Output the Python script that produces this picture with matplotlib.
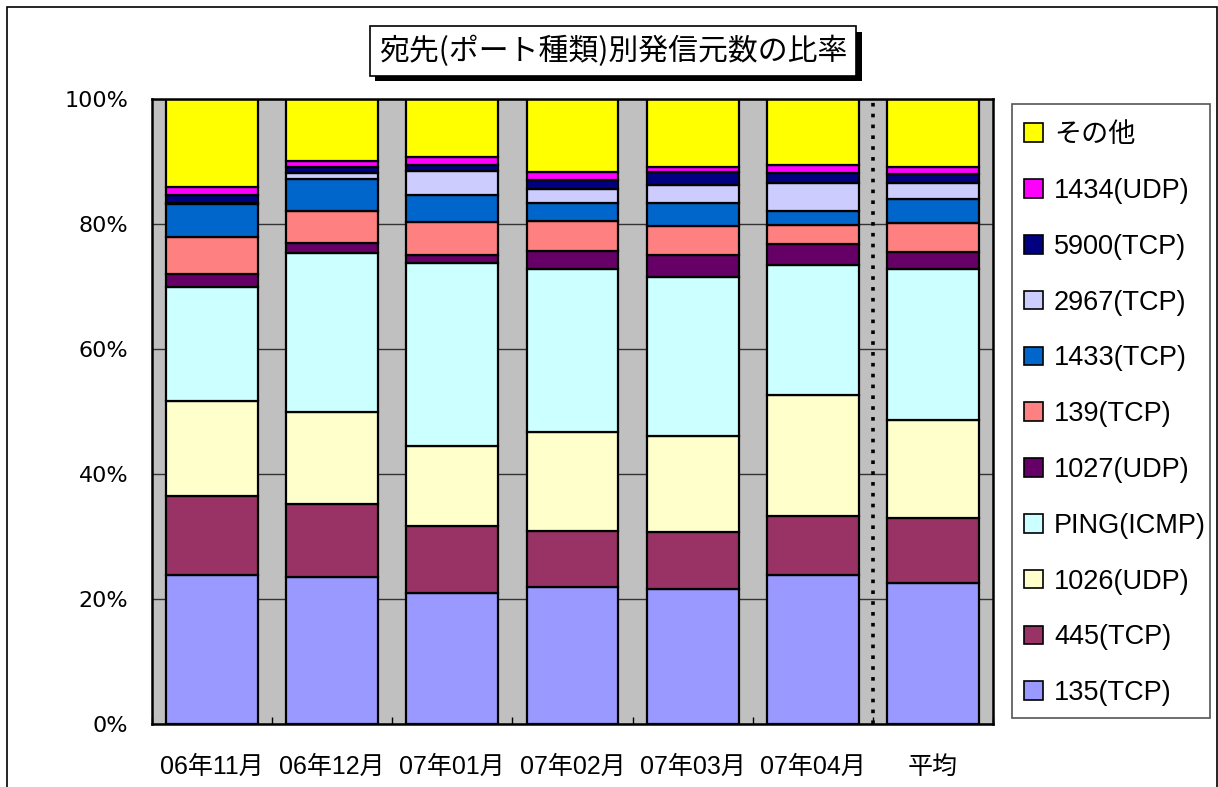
import numpy as np
import matplotlib
matplotlib.use("Agg")
import matplotlib.pyplot as plt
import matplotlib.patheffects as pe
from matplotlib.patches import Rectangle, Patch

plt.rcParams['font.family'] = ['Liberation Sans', 'Noto Sans CJK JP', 'DejaVu Sans']

# data (percent share per month, bottom -> top)
months = ["06年11月", "06年12月", "07年01月", "07年02月", "07年03月", "07年04月", "平均"]
series_names = ["135(TCP)", "445(TCP)", "1026(UDP)", "PING(ICMP)", "1027(UDP)", "139(TCP)",
                "1433(TCP)", "2967(TCP)", "5900(TCP)", "1434(UDP)", "その他"]
p135 = [23.8, 23.5, 21.0, 21.9, 21.6, 23.8, 22.6]
p445 = [12.7, 11.7, 10.7, 9.0, 9.1, 9.5, 10.4]
p1026 = [15.2, 14.7, 12.8, 15.8, 15.4, 19.3, 15.6]
ping = [18.2, 25.5, 29.3, 26.1, 25.4, 20.8, 24.2]
p1027 = [2.1, 1.6, 1.2, 2.9, 3.5, 3.4, 2.7]
p139 = [5.9, 5.1, 5.3, 4.8, 4.7, 3.0, 4.7]
p1433 = [5.3, 5.1, 4.3, 2.9, 3.7, 2.3, 3.8]
p2967 = [0.2, 1.0, 3.9, 2.2, 2.8, 4.5, 2.6]
p5900 = [1.2, 0.9, 0.9, 1.4, 2.1, 1.6, 1.4]
p1434 = [1.3, 1.0, 1.3, 1.3, 0.8, 1.2, 1.1]
other = [14.1, 9.9, 9.3, 11.7, 10.9, 10.6, 10.9]
yticks = [0, 20, 40, 60, 80, 100]

colors = ["#9999FF", "#993366", "#FFFFCC", "#CCFFFF", "#660066", "#FF8080",
          "#0066CC", "#CCCCFF", "#000080", "#FF00FF", "#FFFF00"]

W, H = 1218, 787
fig = plt.figure(figsize=(W / 100, H / 100), dpi=100)
ax = fig.add_axes([152 / W, 1 - 724 / H, (993 - 152) / W, (724 - 99) / H])
ax.set_facecolor("#C0C0C0")

x = np.arange(len(months))
data = [p135, p445, p1026, ping, p1027, p139, p1433, p2967, p5900, p1434, other]
bottom = np.zeros(len(months))
for vals, col in zip(data, colors):
    ax.bar(x, vals, width=0.765, bottom=bottom, color=col, edgecolor="black",
           linewidth=1.6, zorder=3)
    bottom += np.array(vals)

ax.set_xlim(-0.5, len(months) - 0.5)
ax.set_ylim(0, 100)
ax.set_yticks(yticks)
ax.set_yticklabels([f"{v}%" for v in yticks], family="DejaVu Sans", fontsize=16)
ax.yaxis.grid(True, color="#333333", linewidth=1.0, zorder=1)
ax.tick_params(axis="y", length=0, pad=17)
ax.set_xticks(x)
ax.set_xticklabels(months, fontsize=18)
ax.set_xticks(np.arange(-0.5, len(months), 1.0), minor=True)
ax.tick_params(axis="x", which="major", length=0, pad=22)
ax.tick_params(axis="x", which="minor", direction="in", length=5, width=1)
for s in ax.spines.values():
    s.set_linewidth(1.8)
    s.set_zorder(4)

# separator before the average bar
ax.axvline(len(months) - 1.5, color="black", linewidth=2.6, linestyle=(0, (1, 2)), zorder=2)

# legend (frame drawn separately)
handles = [Patch(facecolor=c, edgecolor="black", linewidth=1.2) for c in colors]
fig.legend(handles[::-1], series_names[::-1], loc="upper left",
           bbox_to_anchor=(1012 / W, 1 - 110 / H), fontsize=19.5, frameon=False,
           handlelength=0.68, handleheight=0.68, handletextpad=0.42,
           labelspacing=1.1, borderpad=0.45, borderaxespad=0)
fig.patches.append(Rectangle((1012 / W, 1 - 718 / H), (1210 - 1012) / W, (718 - 104) / H,
                             transform=fig.transFigure, fill=False, edgecolor="#555555", linewidth=1.2))

# title with shadowed box
t = fig.text(613 / W, 1 - 51 / H, "宛先(ポート種類)別発信元数の比率", fontsize=21.5,
             ha="center", va="center", family=["Noto Sans CJK JP"],
             bbox=dict(boxstyle="square,pad=0.3", facecolor="white", edgecolor="black", linewidth=1.2))
t.get_bbox_patch().set_path_effects([
    pe.SimplePatchShadow(offset=(4, -4), shadow_rgbFace="black", alpha=1.0), pe.Normal()])

# outer chart border
fig.patches.append(Rectangle((7 / W, -0.02), (1217 - 7) / W, 1 - 7 / H + 0.02,
                             transform=fig.transFigure, fill=False, edgecolor="black", linewidth=1.2))

fig.savefig("out.png", dpi=100)
